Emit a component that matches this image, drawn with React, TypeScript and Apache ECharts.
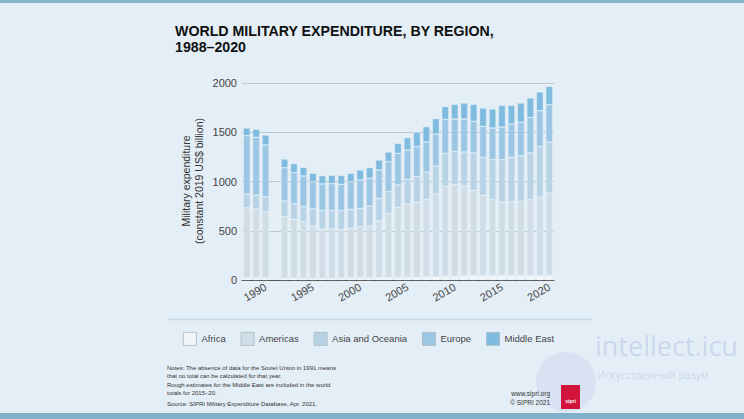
import React, { useEffect, useRef } from "react";
import * as echarts from "echarts";

const years = [
  "1988", "1989", "1990", "1991", "1992", "1993", "1994", "1995", "1996", "1997", "1998",
  "1999", "2000", "2001", "2002", "2003", "2004", "2005", "2006", "2007", "2008", "2009",
  "2010", "2011", "2012", "2013", "2014", "2015", "2016", "2017", "2018", "2019", "2020",
];

const africa = [22, 21, 21, null, 18, 18, 18, 17, 17, 18, 19, 21, 22, 22, 24, 24, 26, 27, 28, 30, 33, 35, 37, 41, 42, 45, 46, 46, 43, 42, 41, 41, 43];
const americas = [712, 703, 673, null, 625, 598, 574, 531, 501, 500, 492, 504, 519, 526, 575, 653, 712, 745, 761, 789, 840, 915, 931, 917, 868, 815, 770, 746, 749, 757, 775, 802, 840];
const asiaOceania = [139, 139, 152, null, 159, 156, 153, 176, 186, 189, 193, 192, 187, 203, 230, 220, 227, 250, 260, 277, 284, 335, 338, 341, 379, 385, 406, 430, 453, 463, 473, 514, 518];
const europe = [592, 586, 525, null, 338, 318, 311, 274, 271, 271, 268, 281, 287, 281, 288, 304, 321, 298, 305, 305, 325, 345, 328, 335, 322, 315, 321, 331, 339, 339, 362, 362, 379];
const middleEast = [78, 81, 101, null, 88, 91, 88, 85, 84, 85, 90, 85, 102, 109, 101, 98, 101, 125, 145, 156, 156, 130, 149, 163, 172, 186, 193, 220, 189, 196, 197, 190, 186];

const yTicks = [0, 500, 1000, 1500, 2000];

const seriesDefs = [
  { name: "Africa", data: africa, color: "#f3f6f8" },
  { name: "Americas", data: americas, color: "#d0dde7" },
  { name: "Asia and Oceania", data: asiaOceania, color: "#b8d3e6" },
  { name: "Europe", data: europe, color: "#9cc7e4" },
  { name: "Middle East", data: middleEast, color: "#7ebbdf" },
];

const noteLines = [
  "Notes: The absence of data for the Soviet Union in 1991 means",
  "that no total can be calculated for that year.",
  "Rough estimates for the Middle East are included in the world",
  "totals for 2015–20.",
];

export default function App() {
  const ref = useRef<HTMLDivElement>(null);
  useEffect(() => {
    if (!ref.current) return;
    const chart = echarts.init(ref.current, null, { renderer: "svg" });
    const font = "Liberation Sans";
    const noteYs = [368, 376, 385, 393];
    const option: any = {
      animation: false,
      backgroundColor: "#e4eef6",
      textStyle: { fontFamily: font },
      grid: { left: 242, right: 190, top: 83, bottom: 139, containLabel: false },
      legend: {
        left: 183,
        top: 332,
        padding: 0,
        itemWidth: 13,
        itemHeight: 13,
        itemGap: 15,
        icon: "rect",
        selectedMode: false,
        textStyle: { fontSize: 9.5, color: "#444", fontFamily: font },
        itemStyle: { borderColor: "#aab9c3", borderWidth: 0.8 },
        data: seriesDefs.map((s) => s.name),
      },
      xAxis: {
        type: "category",
        data: years,
        boundaryGap: true,
        axisLine: { lineStyle: { color: "#555", width: 1 } },
        axisTick: {
          alignWithLabel: true,
          length: 5,
          lineStyle: { color: "#555" },
          interval: (i: number, v: string) => Number(v) % 5 === 0,
        },
        axisLabel: {
          interval: (i: number, v: string) => Number(v) % 5 === 0,
          rotate: 30,
          margin: 6,
          fontSize: 11,
          color: "#444",
          fontFamily: font,
        },
      },
      yAxis: {
        type: "value",
        min: yTicks[0],
        max: yTicks[yTicks.length - 1],
        interval: 500,
        axisLine: { show: false },
        axisTick: { show: false },
        axisLabel: {
          fontSize: 11,
          color: "#444",
          margin: 5,
          fontFamily: font,
          formatter: (v: number) => String(v),
        },
        splitLine: { lineStyle: { color: "#bac8d2", width: 1 } },
      },
      series: seriesDefs.map((s) => ({
        name: s.name,
        type: "bar",
        stack: "total",
        data: s.data,
        barCategoryGap: "26%",
        itemStyle: {
          color: s.color,
          borderColor: "rgba(236,243,248,0.9)",
          borderWidth: 0.5,
        },
      })),
      graphic: [
        { type: "rect", shape: { x: 0, y: 0, width: 744, height: 3 }, style: { fill: "#86b5cb" } },
        { type: "rect", shape: { x: 0, y: 3, width: 744, height: 1 }, style: { fill: "#d6eef9" } },
        { type: "rect", shape: { x: 0, y: 413, width: 744, height: 6 }, style: { fill: "#7fb2ca" } },
        { type: "line", shape: { x1: 168, y1: 319.5, x2: 592, y2: 319.5 }, style: { stroke: "#c6d9e6", lineWidth: 1.5 } },
        {
          type: "text", x: 175, y: 24,
          style: { text: "WORLD MILITARY EXPENDITURE, BY REGION,", font: `bold 14.2px "${font}"`, fill: "#111" },
        },
        {
          type: "text", x: 175, y: 40,
          style: { text: "1988–2020", font: `bold 14.2px "${font}"`, fill: "#111" },
        },
        {
          type: "text", x: 186, y: 181, rotation: Math.PI / 2,
          style: { text: "Military expenditure", font: `10.5px "${font}"`, fill: "#333", align: "center", verticalAlign: "middle" },
        },
        {
          type: "text", x: 199, y: 181, rotation: Math.PI / 2,
          style: { text: "(constant 2019 US$ billion)", font: `10.5px "${font}"`, fill: "#333", align: "center", verticalAlign: "middle" },
        },
        ...noteLines.map((t, i) => ({
          type: "text", x: 167, y: noteYs[i],
          style: { text: t, font: `6px "${font}"`, fill: "#333", verticalAlign: "middle" },
        })),
        {
          type: "text", x: 167, y: 404,
          style: { text: "Source: SIPRI Military Expenditure Database, Apr. 2021.", font: `6px "${font}"`, fill: "#333", verticalAlign: "middle" },
        },
        { type: "circle", shape: { cx: 566, cy: 382, r: 30 }, style: { fill: "rgba(196,204,238,0.35)" } },
        {
          type: "text", x: 550, y: 393,
          style: { text: "www.sipri.org", font: `6.5px "${font}"`, fill: "#333", align: "right", verticalAlign: "middle" },
        },
        {
          type: "text", x: 550, y: 402,
          style: { text: "© SIPRI 2021", font: `6.5px "${font}"`, fill: "#333", align: "right", verticalAlign: "middle" },
        },
        { type: "rect", shape: { x: 561, y: 385, width: 19, height: 24 }, style: { fill: "#d2143c" } },
        {
          type: "text", x: 570.5, y: 401,
          style: { text: "sipri", font: `bold 5px "${font}"`, fill: "#fff", align: "center", verticalAlign: "middle" },
        },
        {
          type: "text", x: 595, y: 345,
          style: { text: "intellect.icu", font: `27px "Open Sans"`, fill: "rgba(170,186,224,0.45)", verticalAlign: "middle" },
        },
        {
          type: "text", x: 597, y: 375,
          style: { text: "Искусственный разум", font: `10.5px "Open Sans"`, fill: "rgba(170,186,224,0.45)", verticalAlign: "middle" },
        },
      ],
    };
    chart.setOption(option);
    return () => chart.dispose();
  }, []);
  return (
    <div
      ref={ref}
      style={{ position: "fixed", left: 0, top: 0, width: 744, height: 419 }}
    />
  );
}
